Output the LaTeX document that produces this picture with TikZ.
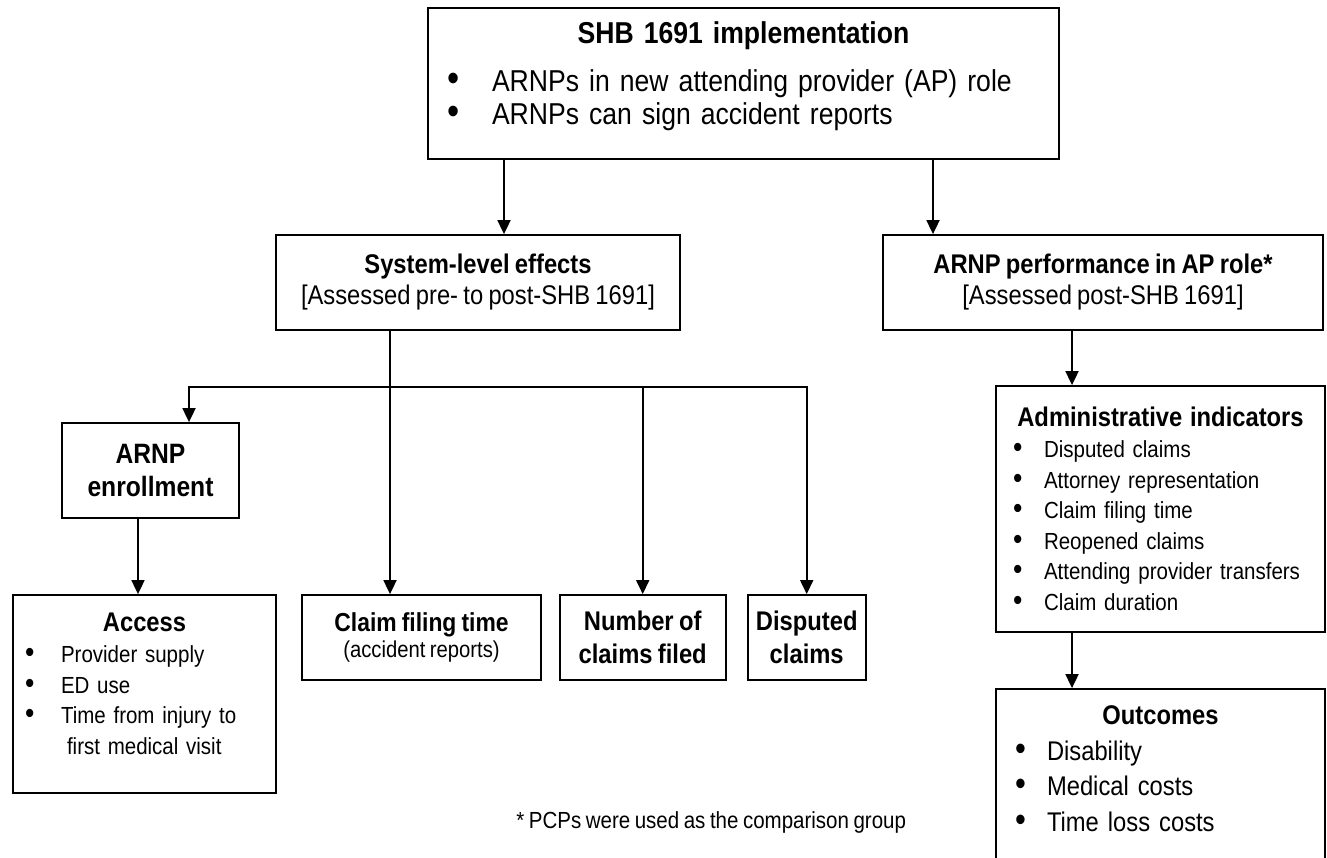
\documentclass[tikz,border=0pt]{standalone}
\usepackage{fontspec}
\setmainfont[FakeStretch=0.88,WordSpace=0.8]{Liberation Sans}
\usepackage{graphicx}
\usetikzlibrary{positioning,arrows.meta}
\newcommand{\blt}[2][36pt]{\makebox[#1][l]{\smash{\scalebox{1.3}{\textbullet}}}#2}
\newcommand{\gap}[1]{\par\vspace{#1}\hrule height 0pt}

\begin{document}
\begin{tikzpicture}[x=1pt,y=-1pt,line width=1.8pt,
>={Triangle[length=14pt,width=13pt]},
box/.style={draw=black, inner sep=0pt},
big/.style={font=\fontsize{30.2}{33}\selectfont},
mid/.style={font=\fontsize{27}{31}\selectfont},
small/.style={font=\fontsize{23.3}{30.6}\selectfont},
]
\clip (0,0) rectangle (1327,857);
\fill[white] (0,0) rectangle (1327,857);

\node[box, big, minimum width=631pt, minimum height=151pt, text width=593pt, align=left] (impl) at (743.5,83.5)
  {{\centering\bfseries SHB 1691 implementation\par}\vspace{15pt}
   \blt[45pt]{ARNPs in new attending provider (AP) role}\\
   \blt[45pt]{ARNPs can sign accident reports}\gap{14pt}};

\node[box, mid, minimum width=404pt, minimum height=95pt, align=center] (sys) at (478,282.5)
  {\textbf{System-level effects}\\{[Assessed pre- to post-SHB 1691]}};
\node[box, mid, minimum width=440pt, minimum height=95pt, align=center] (perf) at (1103,282.5)
  {\textbf{ARNP performance in AP role*}\\{[Assessed post-SHB 1691]}};

\node[box, font=\fontsize{28}{33}\selectfont\bfseries, minimum width=177pt, minimum height=95pt, align=center] (enroll) at (150.5,470.5)
  {ARNP\\enrollment};

\node[box, small, minimum width=263pt, minimum height=198pt, text width=239pt, align=left] (access) at (144.5,694)
  {{\centering\fontsize{27}{31}\selectfont\bfseries Access\par}
   \blt{Provider supply}\\
   \blt{ED use}\\
   \blt{Time from injury to}\\
   \hspace*{42pt}first medical visit\gap{20pt}};

\node[box, minimum width=239pt, minimum height=85pt, align=center] (claim) at (421.5,637.5)
  {{\fontsize{26}{31}\selectfont\bfseries Claim filing time}\\[2pt]{\fontsize{23}{28}\selectfont(accident reports)}};
\node[box, font=\fontsize{27}{33}\selectfont\bfseries, minimum width=166pt, minimum height=85pt, align=center] (number) at (642.7,637.5)
  {Number of\\claims filed};
\node[box, font=\fontsize{27}{33}\selectfont\bfseries, minimum width=118pt, minimum height=85pt, align=center] (disputed) at (806.7,637.5)
  {Disputed\\claims};

\node[box, small, minimum width=329pt, minimum height=246pt, text width=295pt, align=left] (admin) at (1160.5,509)
  {{\centering\fontsize{27}{33}\selectfont\bfseries Administrative indicators\par}
   \blt[31pt]{Disputed claims}\\
   \blt[31pt]{Attorney representation}\\
   \blt[31pt]{Claim filing time}\\
   \blt[31pt]{Reopened claims}\\
   \blt[31pt]{Attending provider transfers}\\
   \blt[31pt]{Claim duration}};

\node[box, font=\fontsize{27}{35.5}\selectfont, minimum width=329pt, minimum height=191pt, text width=291pt, align=left] (outcomes) at (1160.5,784.5)
  {{\centering\bfseries Outcomes\par}
   \blt[32pt]{Disability}\\
   \blt[32pt]{Medical costs}\\
   \blt[32pt]{Time loss costs}\gap{32pt}};

\node[small, anchor=east, inner sep=0pt] (note) at (907,822) {* PCPs were used as the comparison group};

% connectors
\coordinate (a1) at (504,0);
\coordinate (a2) at (933,0);
\coordinate (a3) at (138,0);
\coordinate (a4) at (1072,0);
\coordinate (j0) at (189,387);
\coordinate (j1) at (390,387);
\coordinate (j2) at (642.7,387);
\coordinate (j3) at (806.7,387);

\draw[->] (impl.south -| a1) -- (sys.north -| a1);
\draw[->] (impl.south -| a2) -- (perf.north -| a2);
\draw[<->] (enroll.north -| j0) -- (j0) -- (j3) -- (disputed.north);
\draw[->] (sys.south -| j1) -- (claim.north -| j1);
\draw[->] (j2) -- (number.north);
\draw[->] (enroll.south -| a3) -- (access.north -| a3);
\draw[->] (perf.south -| a4) -- (admin.north -| a4);
\draw[->] (admin.south -| a4) -- (outcomes.north -| a4);

\end{tikzpicture}
\end{document}
